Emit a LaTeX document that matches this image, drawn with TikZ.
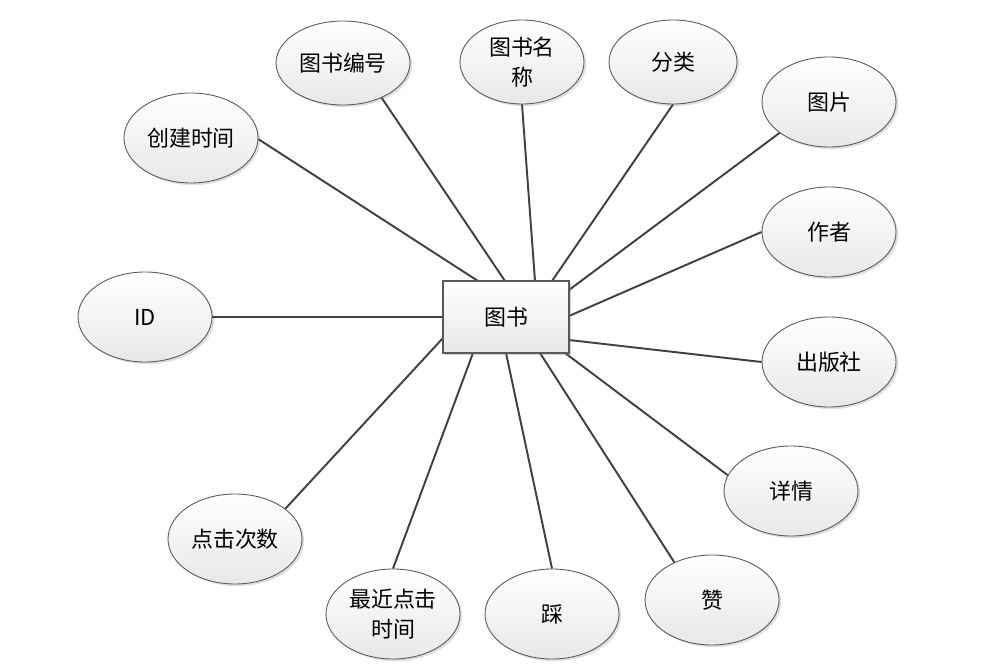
\documentclass[tikz,border=0pt]{standalone}
\usepackage{fontspec}
\newfontfamily\cjk{Noto Sans CJK SC}
\usetikzlibrary{shapes.geometric,shadows}
\begin{document}
\begin{tikzpicture}[x=0.02cm,y=-0.02cm,
  attr/.style={ellipse,draw=gray!70!black,line width=0.5pt,top color=white,bottom color=gray!18,
    minimum width=134*0.02cm,minimum height=90*0.02cm,inner sep=0pt,align=center,
    font=\cjk\fontsize{12.5}{17}\selectfont,
    drop shadow={shadow xshift=1.2pt,shadow yshift=-1.2pt,opacity=0.25,fill=gray}},
  ent/.style={rectangle,draw=gray!70!black,line width=0.6pt,top color=white,bottom color=gray!18,
    minimum width=126*0.02cm,minimum height=72*0.02cm,inner sep=0pt,
    font=\cjk\fontsize{12.5}{17}\selectfont,
    drop shadow={shadow xshift=1.2pt,shadow yshift=-1.2pt,opacity=0.3,fill=gray}},
  conn/.style={draw=black!75,line width=1.1pt}]
\useasboundingbox[fill=white] (0,0) rectangle (1004,672);
% connectors first (behind shapes)
\coordinate (b1) at (478,281);
\coordinate (b2) at (505,281);
\coordinate (b3) at (535,281);
\coordinate (b4) at (552,281);
\coordinate (b5) at (569,290);
\coordinate (b6) at (569,316);
\coordinate (b7) at (443,317);
\coordinate (b8) at (569,340);
\coordinate (b9) at (565,353);
\coordinate (b10) at (540,353);
\coordinate (b11) at (506,353);
\coordinate (b12) at (473,353);
\coordinate (b13) at (443,338);
\node[attr] (ctime) at (191,138) {创建时间};
\node[attr,minimum width=134*0.02cm,minimum height=84*0.02cm] (bno) at (343,63) {图书编号};
\node[attr,minimum width=124*0.02cm,minimum height=84*0.02cm] (bname) at (522,62) {图书名\\称};
\node[attr,minimum width=128*0.02cm,minimum height=84*0.02cm] (cat) at (673,62) {分类};
\node[attr] (pic) at (829,102) {图片};
\node[attr] (author) at (829,232) {作者};
\node[attr] (id) at (145,317) {ID};
\node[attr] (pub) at (829,362) {出版社};
\node[attr] (detail) at (791,491) {详情};
\node[attr] (clicks) at (235,539) {点击次数};
\node[attr] (last) at (393,614) {最近点击\\时间};
\node[attr] (down) at (552,614) {踩};
\node[attr] (up) at (712,600) {赞};
\begin{scope}[on background layer/.try]
\end{scope}
\draw[conn] (b1) -- (ctime.-1);
\draw[conn] (b2) -- (bno.-42.6);
\draw[conn] (b3) -- (bname.-90);
\draw[conn] (b4) -- (cat.-90);
\draw[conn] (b5) -- (pic.212);
\draw[conn] (b6) -- (author.180);
\draw[conn] (b7) -- (id.0);
\draw[conn] (b8) -- (pub.180);
\draw[conn] (b9) -- (detail.166.4);
\draw[conn] (b10) -- (up.135);
\draw[conn] (b11) -- (down.90);
\draw[conn] (b12) -- (last.90);
\draw[conn] (b13) -- (clicks.31);
\node[ent] (book) at (506,317) {图书};
\end{tikzpicture}
\end{document}
